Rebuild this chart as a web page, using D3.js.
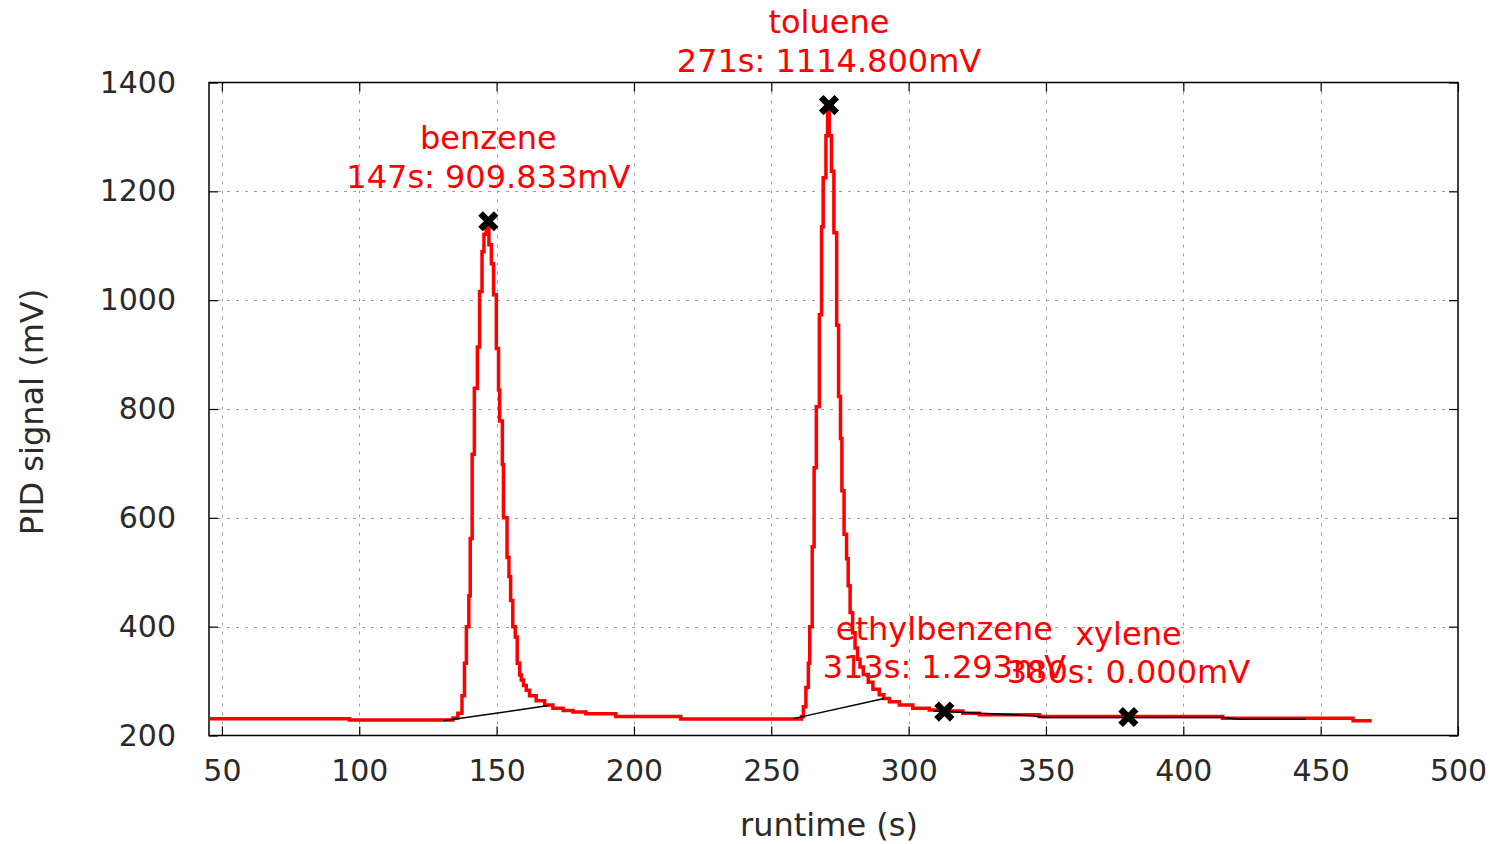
<!DOCTYPE html>
<html>
<head>
<meta charset="utf-8">
<script src="https://cdn.jsdelivr.net/npm/d3@7"></script>
<style>
  body { margin: 0; background: #fff; }
  text { font-family: "DejaVu Sans", sans-serif; }
</style>
</head>
<body>
<svg id="chart"></svg>
<script>
const width = 1497;
const height = 844;

// chromatogram trace (step data)
const runtime = [45.3, 96.4, 134.1, 135.9, 137.4, 138.3, 139.0, 139.9, 140.4, 141.1, 141.9, 143.0,
  143.8, 144.7, 145.4, 146.2, 147.2, 148.1, 148.9, 149.9, 150.7, 151.1, 152.1, 152.5, 153.8,
  154.5, 155.1, 155.9, 156.8, 157.5, 158.4, 159.0, 159.8, 160.8, 162.0, 164.4, 167.5, 170.5,
  174.2, 177.8, 182.5, 193.4, 217.0, 261.0, 261.7, 262.6, 263.5, 264.0, 264.9, 265.6, 266.4,
  267.5, 268.3, 268.9, 269.9, 270.5, 271.1, 271.9, 272.8, 273.8, 274.5, 275.2, 275.7, 276.5,
  277.4, 278.0, 278.7, 279.6, 280.5, 281.4, 282.3, 283.5, 285.3, 287.0, 289.3, 291.0, 293.0,
  296.6, 301.5, 307.5, 313.6, 319.7, 325.7, 347.6, 414.3, 461.8, 468.6];
const signal = [231, 228.5, 232, 241, 273, 333, 400, 457, 562, 717, 838, 914,
  1016, 1089, 1121, 1138, 1102, 1067, 1010, 911, 835, 778, 698, 600, 527,
  492, 448, 400, 381, 333, 311, 302, 292, 283, 273, 264, 256, 250,
  246, 243, 240, 235, 230.5, 235, 253, 288, 333, 400, 547, 692, 804,
  973, 1135, 1225, 1302, 1352, 1302, 1237, 1124, 954, 823, 746, 650, 570,
  525, 475, 426, 389, 361, 340, 326, 312, 298, 285, 275, 268, 262,
  256, 250, 247, 245, 241, 238, 235, 231.5, 227, 227];

// integration baselines
const baseBenzene = [[130.5, 227], [169, 255]];
const baseToluene = [[258, 231], [291.1, 268]];
const baseEthyl = [[309, 245], [345, 236.5], [348.8, 233]];
const baseXylene = [[348.8, 233], [414.7, 233], [420.2, 230], [444.6, 230]];

// detected peaks
const peakNames = ['benzene', 'toluene', 'ethylbenzene', 'xylene'];
const peakTimes = [147, 271, 313, 380];
const peakSignals = [1145, 1358.5, 244, 234];
const peakLabels = ['147s: 909.833mV', '271s: 1114.800mV', '313s: 1.293mV', '380s: 0.000mV'];

const xTicks = [50, 100, 150, 200, 250, 300, 350, 400, 450, 500];
const yTicks = [200, 400, 600, 800, 1000, 1200, 1400];

const plotLeft = 209, plotRight = 1458, plotTop = 82.5, plotBottom = 735.5;

const svg = d3.select('#chart')
            .attr('width', width)
            .attr('height', height);

const x = d3.scaleLinear().domain([45.3, 500]).range([plotLeft, plotRight]);
const y = d3.scaleLinear().domain([200, 1400]).range([plotBottom, plotTop]);

// grid
const grid = svg.append('g')
  .attr('stroke', '#a0a0a0')
  .attr('stroke-width', 1)
  .attr('stroke-dasharray', '3,6');
grid.selectAll('.gx').data(xTicks.filter(d => d < 500)).enter()
  .append('line')
  .attr('x1', d => Math.round(x(d)) + 0.5).attr('x2', d => Math.round(x(d)) + 0.5)
  .attr('y1', plotTop).attr('y2', plotBottom);
grid.selectAll('.gy').data(yTicks.filter(d => d > 200 && d < 1400)).enter()
  .append('line')
  .attr('y1', d => Math.round(y(d)) + 0.5).attr('y2', d => Math.round(y(d)) + 0.5)
  .attr('x1', plotLeft).attr('x2', plotRight);

// axes with inside ticks, mirrored on top / right
const xAxis = svg.append('g').attr('transform', `translate(0, ${plotBottom})`)
  .call(d3.axisBottom(x).tickValues(xTicks).tickFormat(d3.format('d'))
    .tickSizeInner(-9).tickSizeOuter(0).tickPadding(24));
const yAxis = svg.append('g').attr('transform', `translate(${plotLeft}, 0)`)
  .call(d3.axisLeft(y).tickValues(yTicks).tickFormat(d3.format('d'))
    .tickSizeInner(-9).tickSizeOuter(0).tickPadding(33));
const xTop = svg.append('g').attr('transform', `translate(0, ${plotTop})`)
  .call(d3.axisTop(x).tickValues(xTicks).tickSizeInner(-9).tickSizeOuter(0).tickFormat(''));
const yRight = svg.append('g').attr('transform', `translate(${plotRight}, 0)`)
  .call(d3.axisRight(y).tickValues(yTicks).tickSizeInner(-9).tickSizeOuter(0).tickFormat(''));

[xAxis, yAxis, xTop, yRight].forEach(a => {
  a.select('.domain').remove();
  a.selectAll('.tick line').attr('stroke', '#000').attr('stroke-width', 1.2);
  a.selectAll('.tick text').attr('fill', '#2a2a2a').style('font-size', '30px');
});

svg.append('rect')
  .attr('x', plotLeft).attr('y', plotTop)
  .attr('width', plotRight - plotLeft).attr('height', plotBottom - plotTop)
  .attr('fill', 'none').attr('stroke', '#000').attr('stroke-width', 1.5);

// signal trace
const trace = runtime.map((t, i) => [t, signal[i]]);
const line = d3.line().x(d => x(d[0])).y(d => y(d[1])).curve(d3.curveStepAfter);

svg.append('path')
  .datum(trace)
  .attr('fill', 'none')
  .attr('stroke', '#ff0000')
  .attr('stroke-width', 3.5)
  .attr('d', line);

const baseLine = d3.line().x(d => x(d[0])).y(d => y(d[1]));
svg.selectAll('.base').data([baseBenzene, baseToluene, baseEthyl, baseXylene]).enter()
  .append('path')
  .attr('fill', 'none')
  .attr('stroke', '#000')
  .attr('stroke-width', 1.5)
  .attr('d', baseLine);

// peak markers
svg.selectAll('.marker').data(peakTimes).enter()
  .append('path')
  .attr('transform', (d, i) => `translate(${x(d)}, ${y(peakSignals[i])})`)
  .attr('d', 'M-5.5,-5.5L5.5,5.5M-5.5,5.5L5.5,-5.5')
  .attr('stroke', '#000')
  .attr('stroke-width', 6.5)
  .attr('stroke-linecap', 'square');

// peak labels
const labels = svg.selectAll('.peak-label').data(peakNames).enter()
  .append('g')
  .attr('transform', (d, i) => `translate(${x(peakTimes[i])}, ${y(peakSignals[i])})`)
  .attr('fill', '#ff0000')
  .attr('text-anchor', 'middle')
  .style('font-size', '32px');
labels.append('text').attr('y', -72).text(d => d);
labels.append('text').attr('y', -33.5).text((d, i) => peakLabels[i]);

// axis titles
svg.append('text')
  .attr('x', 829).attr('y', 836)
  .attr('text-anchor', 'middle')
  .attr('fill', '#2a2a2a')
  .style('font-size', '32px')
  .text('runtime (s)');

svg.append('text')
  .attr('transform', 'translate(43, 412) rotate(-90)')
  .attr('text-anchor', 'middle')
  .attr('fill', '#2a2a2a')
  .style('font-size', '32px')
  .text('PID signal (mV)');
</script>
</body>
</html>
